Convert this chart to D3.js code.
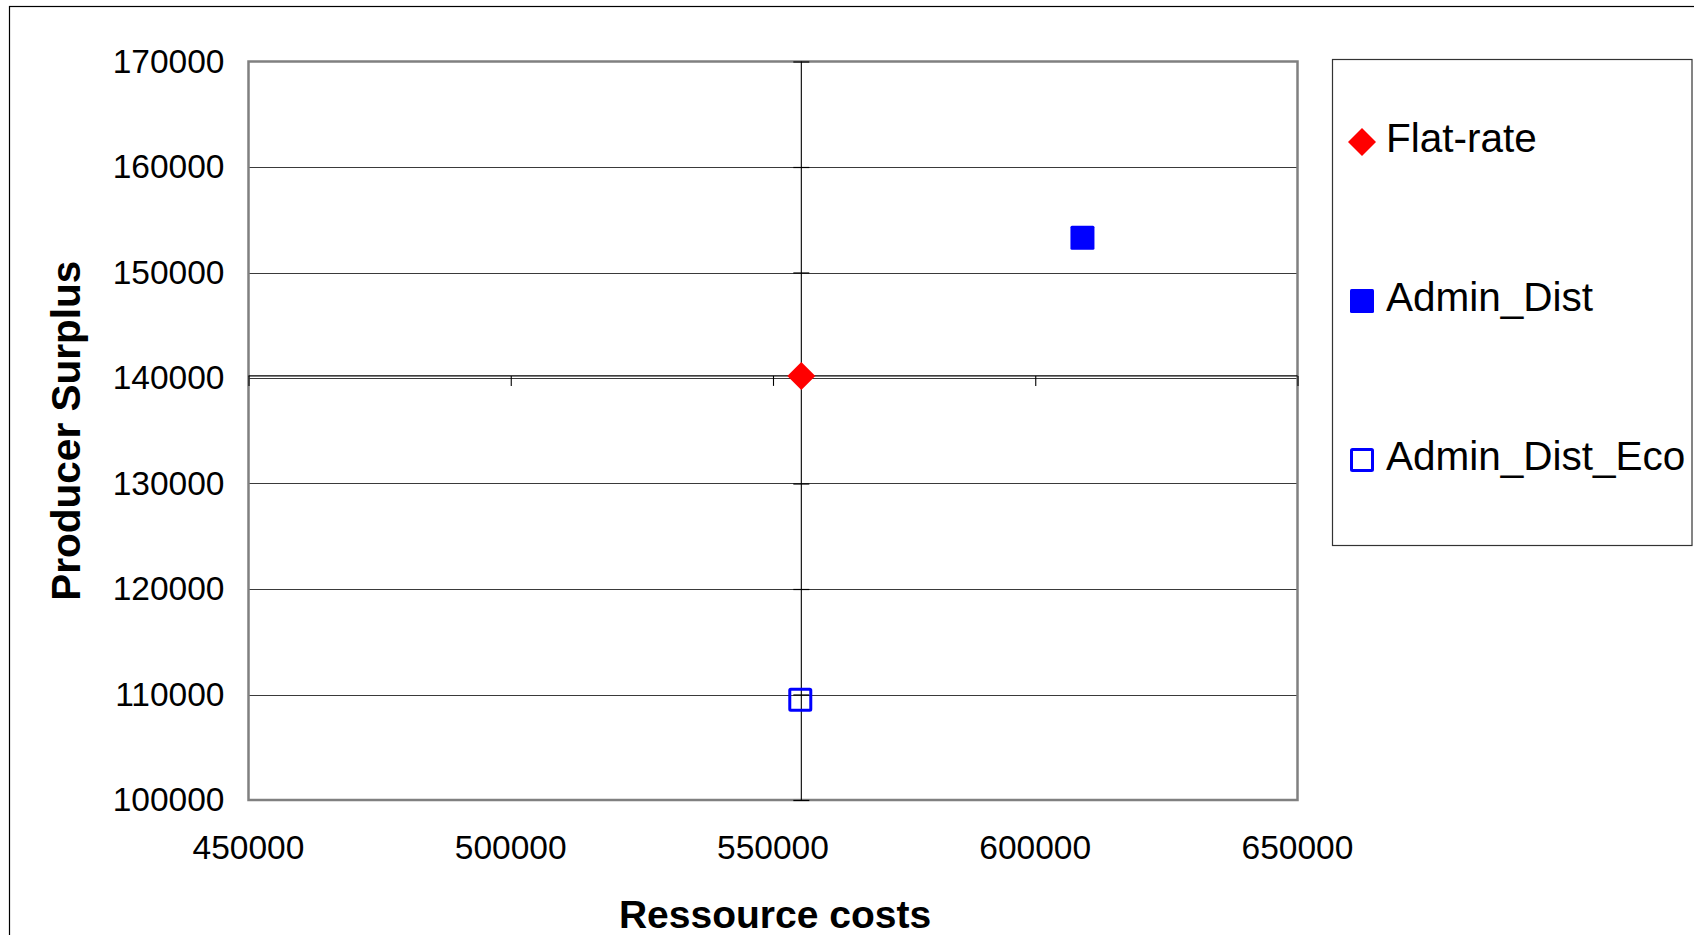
<!DOCTYPE html>
<html>
<head>
<meta charset="utf-8">
<script src="https://cdn.jsdelivr.net/npm/d3@7"></script>
<style>
  html, body { margin: 0; padding: 0; background: #fff; }
  svg { display: block; font-family: "Liberation Sans", Arial, sans-serif; }
</style>
</head>
<body>
<svg id="chart" width="1694" height="935"></svg>
<script>
// Scenario results: resource costs (x) against producer surplus (y)
const seriesNames = ["Flat-rate", "Admin_Dist", "Admin_Dist_Eco"];
const ressourceCosts = [555400, 609000, 555200];
const producerSurplus = [140200, 153300, 109500];

const xTicks = [450000, 500000, 550000, 600000, 650000];
const yTicks = [100000, 110000, 120000, 130000, 140000, 150000, 160000, 170000];

// the axes cross at the Flat-rate scenario
const crossX = ressourceCosts[0];
const crossY = producerSurplus[0];

const svg = d3.select("#chart");
const plot = { left: 248.5, right: 1297.5, top: 61.5, bottom: 800 };

const x = d3.scaleLinear().domain([450000, 650000]).range([plot.left, plot.right]);
const y = d3.scaleLinear().domain([100000, 170000]).range([plot.bottom, plot.top]);

// outer chart frame
svg.append("rect")
  .attr("x", 9.5).attr("y", 6.5).attr("width", 1720).attr("height", 1000)
  .attr("fill", "#fff").attr("stroke", "#000").attr("stroke-width", 1.2);

// horizontal gridlines
svg.append("g").selectAll("line")
  .data(yTicks.slice(1, -1))
  .join("line")
  .attr("x1", plot.left).attr("x2", plot.right)
  .attr("y1", d => Math.round(y(d)) + 0.5).attr("y2", d => Math.round(y(d)) + 0.5)
  .attr("stroke", "#3a3a3a").attr("stroke-width", 1.2);

// plot area frame
svg.append("rect")
  .attr("x", plot.left).attr("y", plot.top)
  .attr("width", plot.right - plot.left).attr("height", plot.bottom - plot.top)
  .attr("fill", "none").attr("stroke", "#808080").attr("stroke-width", 2.5);

// vertical value axis, placed at crossX, with crossing tick marks
const yAxisG = svg.append("g")
  .attr("transform", `translate(${x(crossX) - 8},0)`)
  .call(d3.axisLeft(y).tickValues(yTicks).tickSize(-16).tickFormat(""));
yAxisG.select(".domain").remove();
yAxisG.selectAll(".tick line").attr("stroke", "#000").attr("stroke-width", 1.2);
svg.append("line")
  .attr("x1", x(crossX)).attr("x2", x(crossX))
  .attr("y1", plot.top).attr("y2", plot.bottom)
  .attr("stroke", "#000").attr("stroke-width", 1.1);

// horizontal value axis, placed at crossY, ticks hanging below
const xAxisG = svg.append("g")
  .attr("transform", `translate(0,${y(crossY)})`)
  .call(d3.axisBottom(x).tickValues(xTicks).tickSize(10).tickFormat(""));
xAxisG.select(".domain").remove();
xAxisG.selectAll(".tick line").attr("stroke", "#000").attr("stroke-width", 1.1);
svg.append("line")
  .attr("x1", plot.left).attr("x2", plot.right)
  .attr("y1", y(crossY)).attr("y2", y(crossY))
  .attr("stroke", "#000").attr("stroke-width", 1.1);

// tick labels at the low side of the plot
svg.append("g").selectAll("text")
  .data(yTicks)
  .join("text")
  .attr("x", plot.left - 24)
  .attr("y", d => y(d))
  .attr("dy", "0.33em")
  .attr("text-anchor", "end")
  .attr("font-size", 33.5)
  .attr("fill", "#000")
  .text(d => d);

svg.append("g").selectAll("text")
  .data(xTicks)
  .join("text")
  .attr("x", d => x(d))
  .attr("y", 859)
  .attr("text-anchor", "middle")
  .attr("font-size", 33.5)
  .attr("fill", "#000")
  .text(d => d);

// axis titles
svg.append("text")
  .attr("transform", `translate(80,${(plot.top + plot.bottom) / 2}) rotate(-90)`)
  .attr("text-anchor", "middle")
  .attr("font-size", 40.5)
  .attr("font-weight", "bold")
  .text("Producer Surplus");

svg.append("text")
  .attr("x", (plot.left + plot.right) / 2 + 2)
  .attr("y", 928)
  .attr("text-anchor", "middle")
  .attr("font-size", 39)
  .attr("font-weight", "bold")
  .text("Ressource costs");

// marker drawing per series
const markerStyle = [
  { shape: "diamond", fill: "#ff0000", stroke: "none" },
  { shape: "square", fill: "#0000ff", stroke: "none" },
  { shape: "square", fill: "#fff", stroke: "#0000ff" }
];
function drawMarker(g, style) {
  if (style.shape === "diamond") {
    g.append("path")
      .attr("d", "M0,-14L14,0L0,14L-14,0Z")
      .attr("fill", style.fill);
  } else if (style.stroke === "none") {
    g.append("rect")
      .attr("x", -12).attr("y", -12).attr("width", 24).attr("height", 24)
      .attr("rx", 1.5)
      .attr("fill", style.fill);
  } else {
    g.append("rect")
      .attr("x", -10.5).attr("y", -10.5).attr("width", 21).attr("height", 21)
      .attr("rx", 1)
      .attr("fill", "none")
      .attr("stroke", style.stroke).attr("stroke-width", 3);
  }
}

// data points
seriesNames.forEach((name, i) => {
  const g = svg.append("g")
    .attr("transform", `translate(${x(ressourceCosts[i])},${y(producerSurplus[i])})`);
  drawMarker(g, markerStyle[i]);
});

// legend
const legend = svg.append("g");
legend.append("rect")
  .attr("x", 1332.5).attr("y", 59.5).attr("width", 359.5).attr("height", 486)
  .attr("fill", "#fff").attr("stroke", "#333").attr("stroke-width", 1.2);
seriesNames.forEach((name, i) => {
  const cy = 142 + i * 159;
  const g = legend.append("g").attr("transform", `translate(1362,${cy})`);
  drawMarker(g, markerStyle[i]);
  legend.append("text")
    .attr("x", 1386)
    .attr("y", cy + 10)
    .attr("font-size", 40.5)
    .attr("fill", "#000")
    .text(name);
});
</script>
</body>
</html>
